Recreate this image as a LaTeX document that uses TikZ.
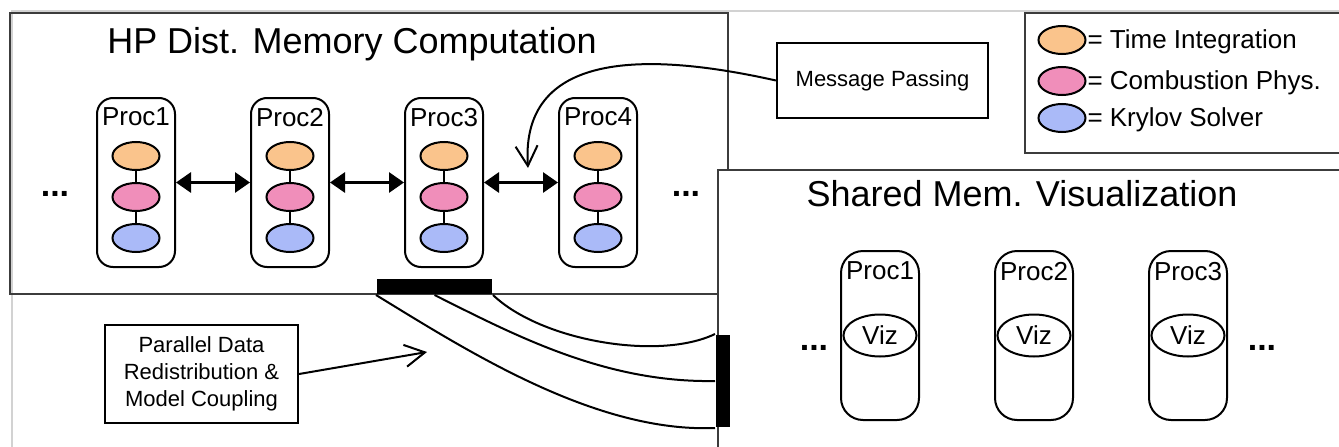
\documentclass[tikz,border=0pt]{standalone}
\usepackage{fontspec}
\setmainfont{Liberation Sans}
\usetikzlibrary{positioning}
\usetikzlibrary{calc}
\usetikzlibrary{shapes.geometric}
\usetikzlibrary{arrows.meta}
\usetikzlibrary{chains}

\definecolor{tiorange}{RGB}{250,196,140}
\definecolor{cppink}{RGB}{240,142,186}
\definecolor{ksblue}{RGB}{170,186,248}
\definecolor{boxgray}{RGB}{60,60,60}

\begin{document}
\begin{tikzpicture} [x=1pt, y=-1pt, node distance=74pt, line width=2pt,
  frame/.style={draw=boxgray, line width=2.4pt},
  proc/.style={draw, rounded corners=16pt, minimum width=78pt, minimum height=169pt},
  blob/.style={draw, ellipse, inner sep=0pt, minimum width=47pt, minimum height=28pt},
  ttl/.style={font=\fontsize{36}{43}\selectfont},
  lbl/.style={font=\fontsize{26}{31}\selectfont},
  sml/.style={font=\fontsize{22}{27}\selectfont},
  ellip/.style={font=\fontsize{34}{40}\selectfont\bfseries, anchor=base},
  bar/.style={fill=black, inner sep=0pt},
  dbl/.style={{Triangle[length=15pt,width=20pt]}-{Triangle[length=15pt,width=20pt]}, line width=3pt},
  msgarrow/.style={-{Straight Barb[length=20pt,width=22pt]}, line width=2pt}]

\clip (0,0) rectangle (1339,447);
\fill [white] (0,0) rectangle (1339,447);

% outer frame
\draw [gray!35, line width=1.5pt] (12,447) -- (12,11) -- (1339,11);

% distributed memory part
\node [frame, minimum width=718pt, minimum height=281pt] (HP) at (369,153.5) {};
\node [ttl, anchor=base] at (352,53) {HP Dist. Memory Computation};

\begin{scope}[start chain=hp going right]
\node [on chain, proc] (P1) at (136,182.5) {};
\node [on chain, join=by dbl, proc] (P2) {};
\node [on chain, join=by dbl, proc] (P3) {};
\node [on chain, join=by dbl, proc] (P4) {};
\end{scope}

\node [lbl, anchor=north, inner sep=0pt, yshift=-10pt] at (P1.north) {Proc1};
\node [lbl, anchor=north, inner sep=0pt, yshift=-10pt] at (P2.north) {Proc2};
\node [lbl, anchor=north, inner sep=0pt, yshift=-10pt] at (P3.north) {Proc3};
\node [lbl, anchor=north, inner sep=0pt, yshift=-10pt] at (P4.north) {Proc4};

\node [blob, fill=tiorange, below=44pt of P1.north] (P1t) {};
\node [blob, fill=cppink, below=11pt of P1t] (P1c) {};
\node [blob, fill=ksblue, below=11pt of P1c] (P1k) {};
\node [blob, fill=tiorange, below=44pt of P2.north] (P2t) {};
\node [blob, fill=cppink, below=11pt of P2t] (P2c) {};
\node [blob, fill=ksblue, below=11pt of P2c] (P2k) {};
\node [blob, fill=tiorange, below=44pt of P3.north] (P3t) {};
\node [blob, fill=cppink, below=11pt of P3t] (P3c) {};
\node [blob, fill=ksblue, below=11pt of P3c] (P3k) {};
\node [blob, fill=tiorange, below=44pt of P4.north] (P4t) {};
\node [blob, fill=cppink, below=11pt of P4t] (P4c) {};
\node [blob, fill=ksblue, below=11pt of P4c] (P4k) {};
\draw [line width=1.5pt] (P1t) -- (P1c) -- (P1k);
\draw [line width=1.5pt] (P2t) -- (P2c) -- (P2k);
\draw [line width=1.5pt] (P3t) -- (P3c) -- (P3k);
\draw [line width=1.5pt] (P4t) -- (P4c) -- (P4k);

\node [ellip] (hpL) at (55,196) {...};
\node [ellip] (hpR) at (686,196) {...};

\node [bar, minimum width=115pt, minimum height=15pt] (B1) at (434.5,286.5) {};

% message passing note
\node [draw, line width=2.2pt, sml, minimum width=211pt, minimum height=75pt] (MP) at (882.5,80.5) {Message Passing};
\coordinate (mpTip) at (528,168);
\draw [msgarrow] (MP.west) .. controls +(-116,-26) and +(-8,-123) .. (mpTip);

% legend
\node [frame, anchor=north west, minimum width=340pt, minimum height=140pt] (LG) at (1024,12) {};
\node [blob, fill=tiorange] (L1) at (1062,40) {};
\node [blob, fill=cppink] (L2) at (1062,81) {};
\node [blob, fill=ksblue] (L3) at (1062,118) {};
\node [lbl, anchor=base west, inner sep=0pt] at ([yshift=-8pt]L1.east) {= Time Integration};
\node [lbl, anchor=base west, inner sep=0pt] at ([yshift=-8pt]L2.east) {= Combustion Phys.};
\node [lbl, anchor=base west, inner sep=0pt] at ([yshift=-8pt]L3.east) {= Krylov Solver};

% shared memory part
\node [frame, fill=white, anchor=north west, minimum width=640pt, minimum height=300pt] (SM) at (716.5,169) {};
\node [ttl, anchor=base] at (1022,206) {Shared Mem. Visualization};

\begin{scope}[start chain=sm going right]
\node [on chain, proc, rounded corners=22pt] (S1) at (880,335.5) {};
\node [on chain, proc, rounded corners=22pt] (S2) {};
\node [on chain, proc, rounded corners=22pt] (S3) {};
\end{scope}

\node [lbl, anchor=north, inner sep=0pt, yshift=-11pt] at (S1.north) {Proc1};
\node [lbl, anchor=north, inner sep=0pt, yshift=-11pt] at (S2.north) {Proc2};
\node [lbl, anchor=north, inner sep=0pt, yshift=-11pt] at (S3.north) {Proc3};
\node [lbl, draw, ellipse, inner sep=0pt, minimum width=73pt, minimum height=42pt] (V1) at (S1) {Viz};
\node [lbl, draw, ellipse, inner sep=0pt, minimum width=73pt, minimum height=42pt] (V2) at (S2) {Viz};
\node [lbl, draw, ellipse, inner sep=0pt, minimum width=73pt, minimum height=42pt] (V3) at (S3) {Viz};

\node [ellip] (smL) at (814,350) {...};
\node [ellip] (smR) at (1262,350) {...};

\node [bar, minimum width=14pt, minimum height=92pt] (B2) at (723,381) {};

% coupling
\draw (B1.south west) .. controls +(90,55) and +(-120,5) .. (B2.south west);
\draw (B1.south) .. controls +(80,40) and +(-110,2) .. (B2.west);
\draw (B1.south east) .. controls +(48,46) and +(-56,27) .. (B2.north west);

\node [draw, line width=2.2pt, sml, align=center, minimum width=193pt, minimum height=98pt] (PD) at (201.5,374)
    {Parallel Data\\Redistribution \&\\Model Coupling};
\coordinate (pdTip) at (427,352);
\draw [msgarrow] (PD.east) -- (pdTip);

\end{tikzpicture}
\end{document}
